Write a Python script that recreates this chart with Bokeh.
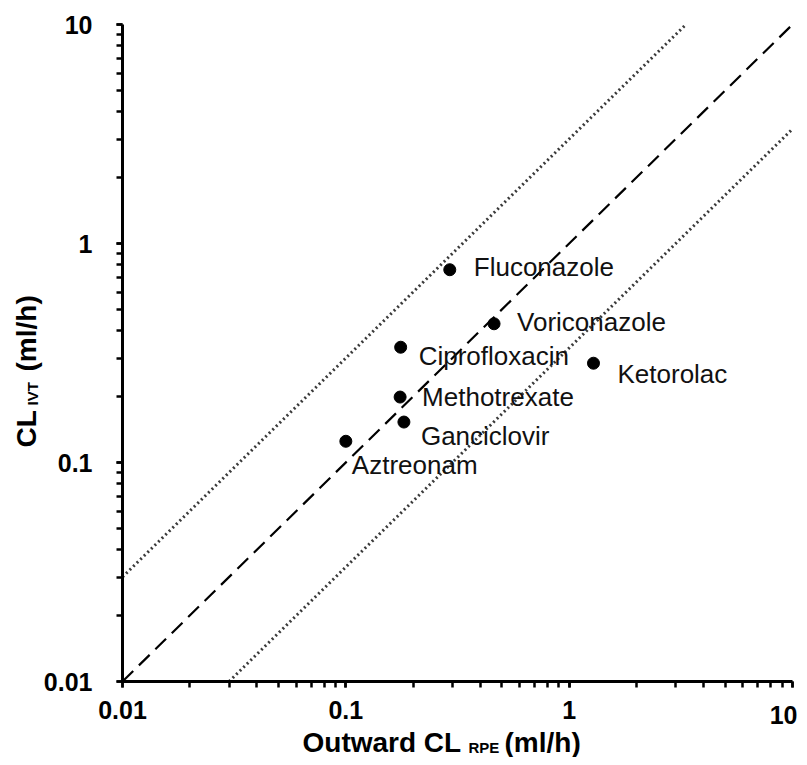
import math
from bokeh.plotting import figure
from bokeh.models import (ColumnDataSource, Label, LogTicker, LogAxis,
                          CustomJSTickFormatter, Range1d)
from bokeh.core.properties import value
from bokeh.embed import file_html
from bokeh.resources import INLINE

# ---- data ----
drugs = ["Fluconazole", "Voriconazole", "Ciprofloxacin", "Ketorolac",
         "Methotrexate", "Ganciclovir", "Aztreonam"]
cl_rpe = [0.292, 0.461, 0.176, 1.285, 0.175, 0.182, 0.100]
cl_ivt = [0.759, 0.430, 0.336, 0.284, 0.199, 0.153, 0.125]
axis_min, axis_max = 0.01, 10
fold = 3

# label placement (screen px, relative to point; dy positive = down)
label_dx = [24, 23, 18, 24, 22, 17, 6]
label_dy = [-3, -2, 9, 11, 0, 14, 24]

FONT = "Liberation Sans"
W, H = 799, 757
# pixel positions of the axis ends (0.01 and 10) in the picture
PX_MIN, PX_MAX = 122, 792
PY_MIN, PY_MAX = 681, 24
DX = (PX_MAX - PX_MIN) / 3.0
DY = (PY_MIN - PY_MAX) / 3.0

def xd(px):
    return 10 ** (-2 + (px - PX_MIN) / DX)
def yd(py):
    return 10 ** (-2 + (PY_MIN - py) / DY)

p = figure(width=W, height=H, x_axis_type="log", y_axis_type="log",
           x_axis_location=None, y_axis_location=None,
           x_range=Range1d(xd(0), xd(W)), y_range=Range1d(yd(H), yd(0)),
           output_backend="svg", toolbar_location=None,
           min_border_left=0, min_border_right=0,
           min_border_top=0, min_border_bottom=0)
p.outline_line_color = None
p.background_fill_color = "white"
p.border_fill_color = "white"
p.xgrid.visible = False
p.ygrid.visible = False
for g in p.grid:
    g.grid_line_color = None

fmt_code = """
if (tick > 9.5 && %s) return '';
return tick >= 1 ? Math.round(tick).toString() : parseFloat(tick.toPrecision(1)).toString();
"""

xaxis = LogAxis(fixed_location=axis_min, bounds=(axis_min, axis_max),
                ticker=LogTicker(num_minor_ticks=10),
                formatter=CustomJSTickFormatter(code=fmt_code % "true"))
yaxis = LogAxis(fixed_location=axis_min, bounds=(axis_min, axis_max),
                ticker=LogTicker(num_minor_ticks=10),
                formatter=CustomJSTickFormatter(code=fmt_code % "false"))
for ax in (xaxis, yaxis):
    ax.axis_line_width = 3
    ax.axis_line_color = "black"
    ax.major_tick_line_width = 2.5
    ax.minor_tick_line_width = 2.5
    ax.major_tick_line_color = "black"
    ax.minor_tick_line_color = "black"
    ax.major_tick_out = 6
    ax.major_tick_in = 0
    ax.minor_tick_out = 6
    ax.minor_tick_in = 0
    ax.major_label_text_font = FONT
    ax.major_label_text_font_style = "bold"
    ax.major_label_text_font_size = "25px"
    ax.major_label_text_color = "black"
xaxis.major_label_standoff = 13
yaxis.major_label_standoff = 24
p.add_layout(xaxis, "below")
p.add_layout(yaxis, "left")

# reference lines: identity and 3-fold bounds
p.line([axis_min, axis_max], [axis_min, axis_max],
       line_color="black", line_width=2.2, line_dash="15 8")
p.line([axis_min, axis_max / fold], [axis_min * fold, axis_max],
       line_color="#3a3a3a", line_width=3, line_dash="2 3")
p.line([axis_min * fold, axis_max], [axis_min, axis_max / fold],
       line_color="#3a3a3a", line_width=3, line_dash="2 3")

src = ColumnDataSource(dict(x=cl_rpe, y=cl_ivt, name=drugs, dx=label_dx, dy=label_dy))
p.scatter("x", "y", source=src, size=12, color="black")
p.text("x", "y", text="name", source=src, x_offset="dx", y_offset="dy",
       text_font=value(FONT), text_font_size="26px", text_color="#111111",
       text_align="left", text_baseline="middle")

MAIN, SUB = 28, 15

def lab(x, y, text, size, angle=0.0):
    p.add_layout(Label(x=x, y=y, text=text, angle=angle,
                       text_font=FONT, text_font_style="bold",
                       text_font_size=f"{size}px", text_align="left",
                       text_baseline="middle", text_color="black"))

# x-axis title: Outward CL_RPE (ml/h)
lab(xd(302), yd(742), "Outward CL", MAIN)
lab(xd(468), yd(747), "RPE", SUB)
lab(xd(504), yd(742), "(ml/h)", MAIN)

# y-axis title: CL_IVT (ml/h), rotated
lab(xd(26), yd(447), "CL", MAIN, math.pi / 2)
lab(xd(32), yd(405), "IVT", SUB, math.pi / 2)
lab(xd(26), yd(371), "(ml/h)", MAIN, math.pi / 2)

# last x tick label, kept inside the page
p.add_layout(Label(x=xd(797), y=yd(714), text="10", text_font=FONT, text_font_style="bold",
                   text_font_size="25px", text_align="right", text_baseline="middle",
                   text_color="black"))

open("out.html", "w").write(file_html(p, INLINE))
